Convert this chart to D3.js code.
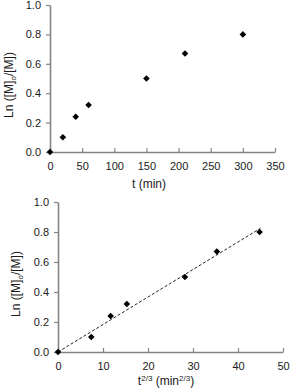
<!DOCTYPE html>
<html>
<head>
<meta charset="utf-8">
<script src="https://cdn.jsdelivr.net/npm/d3@7"></script>
<style>
  body { margin: 0; background: #fff; }
  text { font-family: "Liberation Sans", Arial, sans-serif; }
</style>
</head>
<body>
<svg id="chart"></svg>
<script>
// values
var tMin = [0, 20, 40, 60, 150, 210, 300];
var tPow = [0, 7.4, 11.7, 15.3, 28.2, 35.3, 44.8];
var lnRatio = [0, 0.10, 0.24, 0.32, 0.50, 0.67, 0.80];
var trendX = [0, 45];
var trendY = [0, 0.825];
var topTicksX = [0, 50, 100, 150, 200, 250, 300, 350];
var botTicksX = [0, 10, 20, 30, 40, 50];
var ticksY = [0, 0.2, 0.4, 0.6, 0.8, 1.0];

var width = 290, height = 388;
var axisColor = "#858585";

var svg = d3.select("#chart")
    .attr("width", width)
    .attr("height", height);

function panel(opt) {
  var x = d3.scaleLinear().domain(opt.xDomain).range(opt.xRange);
  var y = d3.scaleLinear().domain([0, 1]).range(opt.yRange);

  var g = svg.append("g");

  // y axis, ticks outside
  var ya = g.append("g")
      .attr("transform", "translate(" + opt.xRange[0] + ",0)")
      .call(d3.axisLeft(y).tickValues(ticksY).tickSize(4).tickPadding(5)
        .tickFormat(d3.format(".1f")).tickSizeOuter(0));

  // x axis, ticks inside (pointing up)
  var xa = g.append("g")
      .attr("transform", "translate(0," + opt.yRange[0] + ")")
      .call(d3.axisBottom(x).tickValues(opt.xTicks).tickSize(-4).tickPadding(10)
        .tickFormat(d3.format("d")).tickSizeOuter(0));

  [ya, xa].forEach(function(a) {
    a.select(".domain").attr("stroke", axisColor).attr("stroke-width", 1.6);
    a.selectAll(".tick line").attr("stroke", axisColor).attr("stroke-width", 1.2);
    a.selectAll(".tick text").attr("fill", "#1a1a1a").style("font-size", "11px")
      .style("font-family", "'Liberation Sans', Arial, sans-serif");
  });

  if (opt.trend) {
    g.append("path")
      .datum(d3.zip(trendX, trendY))
      .attr("d", d3.line().x(function(d) { return x(d[0]); }).y(function(d) { return y(d[1]); }))
      .attr("fill", "none")
      .attr("stroke", "#222")
      .attr("stroke-width", 1)
      .attr("stroke-dasharray", "3,2");
  }

  g.append("g")
    .selectAll("path")
    .data(d3.zip(opt.xs, lnRatio))
    .enter()
    .append("path")
      .attr("d", d3.symbol().type(d3.symbolDiamond2).size(28))
      .attr("transform", function(d) {
        return "translate(" + x(d[0]) + "," + y(d[1]) + ")";
      })
      .attr("fill", "#000");

  // y title
  var yt = g.append("text")
      .attr("transform", "translate(" + opt.yTitle[0] + "," + opt.yTitle[1] + ") rotate(-90)")
      .attr("text-anchor", "middle")
      .style("font-size", "12px")
      .attr("fill", "#1a1a1a");
  yt.append("tspan").text("Ln ([M]");
  yt.append("tspan").attr("dy", 3).style("font-size", "8px").text("o");
  yt.append("tspan").attr("dy", -3).text("/[M])");

  return g;
}

var top1 = panel({
  xDomain: [0, 350], xRange: [50, 275], yRange: [152, 5],
  xTicks: topTicksX, xs: tMin, trend: false, yTitle: [13, 85]
});
top1.append("text")
    .attr("x", 149).attr("y", 188)
    .attr("text-anchor", "middle")
    .style("font-size", "12px")
    .attr("fill", "#1a1a1a")
    .text("t (min)");

var bot = panel({
  xDomain: [0, 50], xRange: [58, 283], yRange: [352, 202],
  xTicks: botTicksX, xs: tPow, trend: true, yTitle: [20, 284]
});
var bt = bot.append("text")
    .attr("x", 166).attr("y", 385)
    .attr("text-anchor", "middle")
    .style("font-size", "12px")
    .attr("fill", "#1a1a1a");
bt.append("tspan").text("t");
bt.append("tspan").attr("dy", -4).style("font-size", "8px").text("2/3");
bt.append("tspan").attr("dy", 4).text(" (min");
bt.append("tspan").attr("dy", -4).style("font-size", "8px").text("2/3");
bt.append("tspan").attr("dy", 4).text(")");
</script>
</body>
</html>
